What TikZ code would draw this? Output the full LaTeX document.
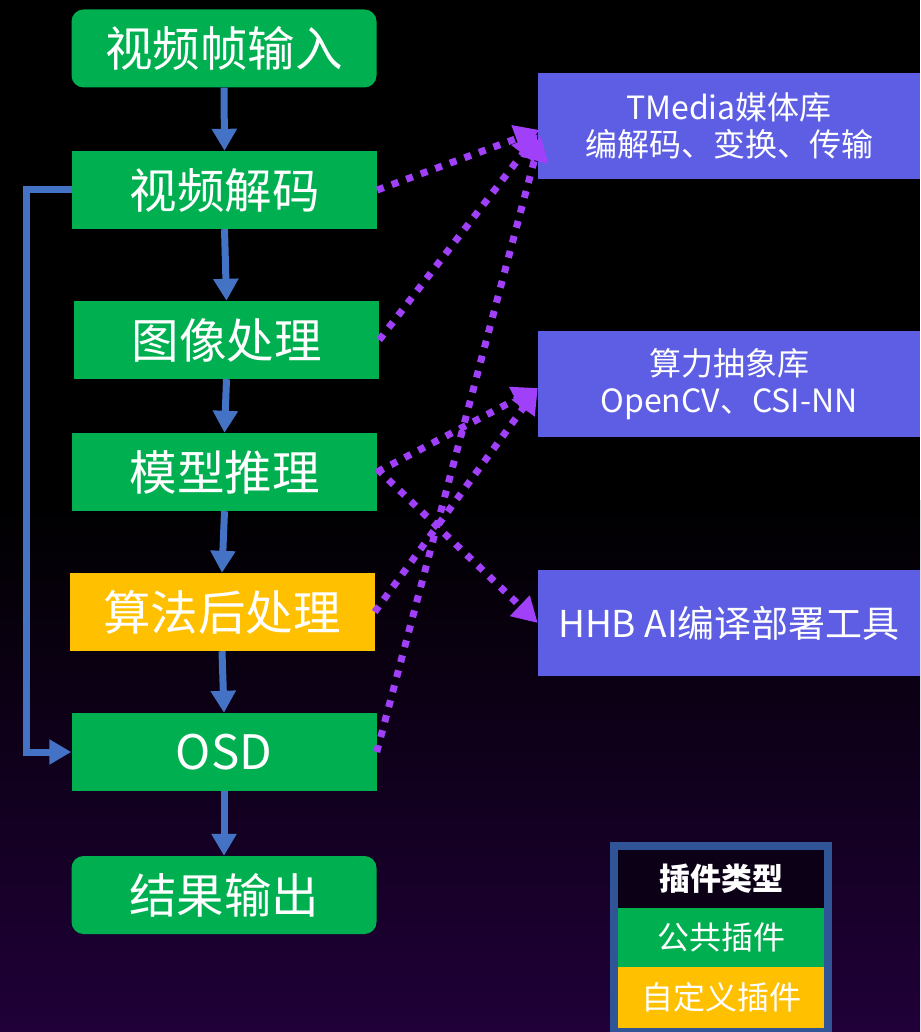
\documentclass[tikz,border=0pt]{standalone}
\usepackage{fontspec}
\newfontfamily\cjk{Noto Sans CJK SC}
\usetikzlibrary{arrows.meta}
\definecolor{bggreen}{HTML}{00B050}
\definecolor{bgyellow}{HTML}{FFC000}
\definecolor{libblue}{HTML}{5E5EE4}
\definecolor{flowblue}{HTML}{4472C4}
\definecolor{dotpurple}{HTML}{A040F8}
\definecolor{legborder}{HTML}{2F5597}
\definecolor{bgpurple}{RGB}{32,0,56}
\definecolor{legdark}{RGB}{12,0,22}
\begin{document}
\begin{tikzpicture}[x=1pt,y=-1pt,
  stepbox/.style={minimum width=305pt,minimum height=78pt,inner sep=0pt,text=white,font=\cjk\fontsize{47.5}{52}\selectfont},
  greenbox/.style={stepbox,fill=bggreen},
  yellowbox/.style={stepbox,fill=bgyellow},
  libbox/.style={minimum width=382pt,minimum height=106pt,inner sep=0pt,fill=libblue,text=white,align=center,font=\cjk\fontsize{32}{37}\selectfont},
  flow/.style={flowblue,line width=7pt,-{Triangle[length=22pt,width=24pt]}},
  dotted arrow/.style={dotpurple,line width=7pt,dash pattern=on 7pt off 8.5pt,-{Triangle[length=25pt,width=27pt]}},
  legcell/.style={minimum width=206pt,inner sep=0pt,text=white,font=\cjk\fontsize{32}{36}\selectfont}
]
% background
\useasboundingbox (0,0) rectangle (920,1032);
\fill[black] (0,0) rectangle (920,1032);
\shade[top color=black,bottom color=bgpurple] (0,500) rectangle (920,1032);

% left column
\node[greenbox,rounded corners=12pt] (n1) at (224,48.5) {视频帧输入};
\node[greenbox] (n2) at (224.5,190) {视频解码};
\node[greenbox] (n3) at (226.5,340) {图像处理};
\node[greenbox] (n4) at (224.5,472) {模型推理};
\node[yellowbox] (n5) at (222,612) {算法后处理};
\node[greenbox] (n6) at (224,752) {OSD};
\node[greenbox,rounded corners=12pt] (n7) at (224,895) {结果输出};

% right column
\node[libbox] (A) at (729,126) {TMedia媒体库\\编解码、变换、传输};
\node[libbox] (B) at (729,384) {算力抽象库\\OpenCV、CSI-NN};
\node[libbox,font=\cjk\fontsize{37}{42}\selectfont] (C) at (729,623) {HHB AI编译部署工具};

% flow arrows
\draw[flow] (n1.south) -- (n2.north);
\draw[flow] (n2.south) -- (n3.north);
\draw[flow] (n3.south) -- (n4.north);
\draw[flow] (n4.south) -- (n5.north);
\draw[flow] (n5.south) -- (n6.north);
\draw[flow] (n6.south) -- (n7.north);
\coordinate (fb) at (26,190);
\draw[flow] (n2.west) -- (fb) |- (n6.west);

% dotted arrows
\coordinate (tA1) at ([shift={(2,4)}]A.west);
\coordinate (tA2) at ([shift={(0,8)}]A.west);
\coordinate (tA3) at ([shift={(3,10)}]A.west);
\coordinate (tB) at ([shift={(0,4)}]B.west);
\draw[dotted arrow] (n2.east) -- (tA1);
\draw[dotted arrow] (n3.east) -- (tA2);
\draw[dotted arrow] (n6.east) -- (tA3);
\draw[dotted arrow] (n4.east) -- (tB);
\draw[dotted arrow] (n5.east) -- (tB);
\draw[dotted arrow] ([yshift=3pt]n4.east) -- (C.west);

% legend
\fill[legborder] (610,842) rectangle (832,1032);
\node[legcell,fill=legdark,minimum height=58pt,font=\cjk\bfseries\fontsize{31}{36}\selectfont] (L0) at (721,879) {插件类型};
\node[legcell,fill=bggreen,minimum height=59pt] (L1) at (721,937.5) {公共插件};
\node[legcell,fill=bgyellow,minimum height=61pt] (L2) at (721,997.5) {自定义插件};
\end{tikzpicture}
\end{document}
